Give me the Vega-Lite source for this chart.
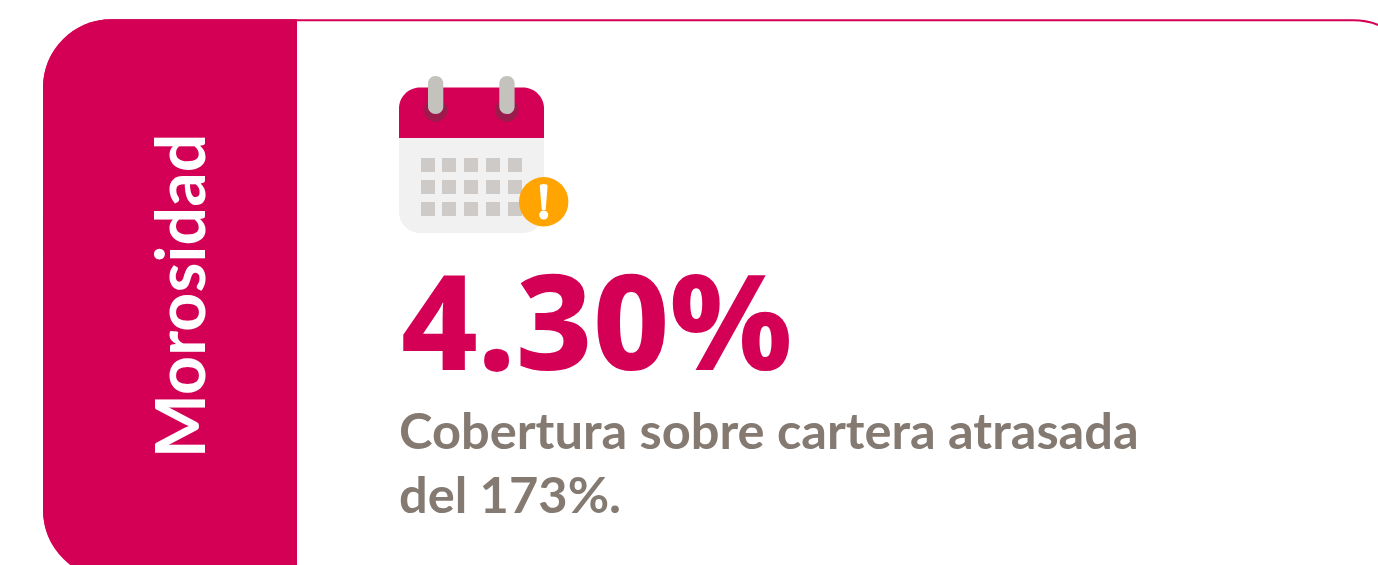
{"$schema":"https://vega.github.io/schema/vega-lite/v6.json","width":1378,"height":565,"autosize":{"type":"fit","contains":"padding"},"padding":0,"background":"#ffffff","view":{"stroke":null},"config":{"style":{"cell":{"stroke":null}}},
"datasets":{"card":[{"x":44,"x2":1421,"y":20.3,"y2":578}],"panel":[{"x":43,"x2":297,"y":19.3,"y2":577}],"body":[{"x":399,"x2":544,"y":88,"y2":233}],"top":[{"x":399,"x2":544,"y":87.5,"y2":138}],"hubs":[{"x":435.7,"y":110},{"x":506.8,"y":110}],"pins":[{"x":428,"x2":443.3,"y":76,"y2":114},{"x":499.3,"x2":514.6,"y":76,"y2":114}],
"squares":[{"x":421,"x2":435,"y":158,"y2":172},{"x":442,"x2":456,"y":158,"y2":172},{"x":464,"x2":478,"y":158,"y2":172},{"x":486,"x2":500,"y":158,"y2":172},{"x":508,"x2":522,"y":158,"y2":172},{"x":421,"x2":435,"y":180,"y2":194},{"x":442,"x2":456,"y":180,"y2":194},{"x":464,"x2":478,"y":180,"y2":194},{"x":486,"x2":500,"y":180,"y2":194},{"x":508,"x2":522,"y":180,"y2":194},{"x":421,"x2":435,"y":202,"y2":216},{"x":442,"x2":456,"y":202,"y2":216},{"x":464,"x2":478,"y":202,"y2":216},{"x":486,"x2":500,"y":202,"y2":216},{"x":508,"x2":522,"y":202,"y2":216}],
"alert":[{"x":543.7,"y":201.7}],"bang":[{"x":543.7,"y":197}],"dot":[{"x":543.7,"y":215}]},
"encoding":{"x":{"field":"x","type":"quantitative","scale":{"domain":[0,1378],"nice":false,"zero":false},"axis":null},"y":{"field":"y","type":"quantitative","scale":{"domain":[0,565],"reverse":true,"nice":false,"zero":false},"axis":null}},
"layer":[
{"data":{"name":"card"},"mark":{"type":"rect","clip":true,"fill":"#ffffff","stroke":"#d40055","strokeWidth":2,"cornerRadius":68},"encoding":{"x2":{"field":"x2"},"y2":{"field":"y2"}}},
{"data":{"name":"panel"},"mark":{"type":"rect","clip":true,"fill":"#d40055","cornerRadiusTopLeft":68,"cornerRadiusBottomLeft":68},"encoding":{"x2":{"field":"x2"},"y2":{"field":"y2"}}},
{"data":{"name":"body"},"mark":{"type":"rect","fill":"#f1f1f2","cornerRadius":21},"encoding":{"x2":{"field":"x2"},"y2":{"field":"y2"}}},
{"data":{"name":"top"},"mark":{"type":"rect","fill":"#d40055","cornerRadiusTopLeft":21,"cornerRadiusTopRight":21},"encoding":{"x2":{"field":"x2"},"y2":{"field":"y2"}}},
{"data":{"name":"hubs"},"mark":{"type":"point","shape":"circle","filled":true,"fill":"#9c1b4d","opacity":1,"size":543,"strokeWidth":0}},
{"data":{"name":"pins"},"mark":{"type":"rect","fill":"#c4c2bd","cornerRadius":7.5},"encoding":{"x2":{"field":"x2"},"y2":{"field":"y2"}}},
{"data":{"name":"squares"},"mark":{"type":"rect","fill":"#cdcac7"},"encoding":{"x2":{"field":"x2"},"y2":{"field":"y2"}}},
{"data":{"name":"alert"},"mark":{"type":"point","shape":"circle","filled":true,"fill":"#ffa400","opacity":1,"size":2440,"strokeWidth":0}},
{"data":{"name":"bang"},"mark":{"type":"point","shape":"M-0.3,-0.85 Q-0.3,-1 0,-1 Q0.3,-1 0.3,-0.85 L0.15,1 L-0.15,1 Z","filled":true,"fill":"#ffffff","opacity":1,"size":676,"strokeWidth":0}},
{"data":{"name":"dot"},"mark":{"type":"point","shape":"circle","filled":true,"fill":"#ffffff","opacity":1,"size":81,"strokeWidth":0}},
{"data":{"values":[{"x":185,"y":296,"label":"Morosidad"}]},"mark":{"type":"text","angle":270,"align":"center","baseline":"middle","font":"Lato","fontWeight":700,"fontSize":68,"fill":"#ffffff"},"encoding":{"text":{"field":"label"}}},
{"data":{"values":[{"x":401,"y":369.5,"label":"4.30%"}]},"mark":{"type":"text","align":"left","baseline":"alphabetic","font":"Noto Sans","fontWeight":800,"fontSize":133,"fill":"#d40055"},"encoding":{"text":{"field":"label"}}},
{"data":{"values":[{"x":399,"y":449,"label":"Cobertura sobre cartera atrasada"},{"x":399,"y":513,"label":"del 173%."}]},"mark":{"type":"text","align":"left","baseline":"alphabetic","font":"Lato","fontWeight":700,"fontSize":50.6,"fill":"#847a71"},"encoding":{"text":{"field":"label"}}}
]}
